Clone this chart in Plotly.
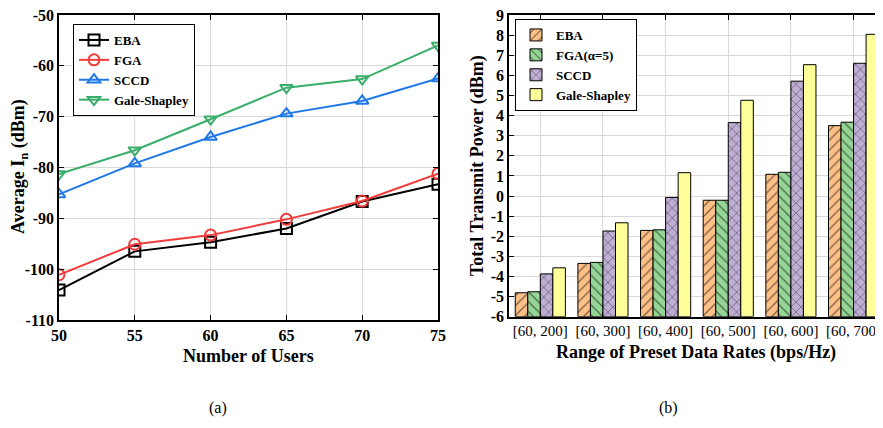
import plotly.graph_objects as go

# ---- Data (a) ----
users = [50, 55, 60, 65, 70, 75]
eba_in = [-104.1, -96.5, -94.7, -92.0, -86.7, -83.3]
fga_in = [-101.1, -95.1, -93.3, -90.2, -86.6, -81.2]
sccd_in = [-85.3, -79.2, -74.0, -69.4, -66.9, -62.5]
gs_in = [-81.3, -76.6, -70.5, -64.3, -62.6, -56.0]
yticks_a = [-110, -100, -90, -80, -70, -60, -50]

# ---- Data (b) ----
rate_ranges = ["[60, 200]", "[60, 300]", "[60, 400]", "[60, 500]", "[60, 600]", "[60, 700]"]
eba_p = [-4.81, -3.35, -1.71, -0.21, 1.08, 3.50]
fga_p = [-4.76, -3.30, -1.68, -0.21, 1.18, 3.67]
sccd_p = [-3.87, -1.74, -0.07, 3.65, 5.71, 6.60]
gs_p = [-3.57, -1.33, 1.16, 4.76, 6.53, 8.04]
yticks_b = list(range(-6, 10))

FONT = "Times New Roman, Liberation Serif, serif"
W, H = 875, 412   # page body has an 8px margin inside the 883x428 window
OFF = 8

def px(x):
    return (x - OFF) / W

def py(y):
    return 1 - (y - OFF) / H

fig = go.Figure()

line_series = [
    ("EBA", eba_in, "#000000", "square-open"),
    ("FGA", fga_in, "#F23C3C", "circle-open"),
    ("SCCD", sccd_in, "#1F78E8", "triangle-up-open"),
    ("Gale-Shapley", gs_in, "#3AAE6B", "triangle-down-open"),
]
for name, ys, col, sym in line_series:
    fig.add_trace(go.Scatter(
        x=users, y=ys, name=name, mode="lines+markers",
        line=dict(color=col, width=2),
        marker=dict(symbol=sym, size=11, color=col, line=dict(color=col, width=2)),
        xaxis="x", yaxis="y", legend="legend",
    ))

bar_series = [
    ("EBA", eba_p, "#FDC086", "/"),
    ("FGA(α=5)", fga_p, "#95D595", "\\"),
    ("SCCD", sccd_p, "#BEAED4", "x"),
    ("Gale-Shapley", gs_p, "#FFFF99", ""),
]
for name, ys, col, pat in bar_series:
    base = -6
    fig.add_trace(go.Bar(
        x=rate_ranges, y=[v - base for v in ys], base=base, name=name,
        marker=dict(color=col, line=dict(color="#000000", width=1),
                    pattern=dict(shape=pat, fgcolor="#000000", bgcolor=col,
                                 size=7, solidity=0.18, fillmode="overlay") if pat else None),
        xaxis="x2", yaxis="y2", legend="legend2",
    ))

axis_common = dict(
    showline=True, linecolor="#000000", linewidth=1.5,
    ticks="inside", ticklen=5, tickcolor="#000000",
    showgrid=True, gridcolor="#D9D9D9", gridwidth=1,
    zeroline=False, automargin=False, ticklabeloverflow="allow",
)
bold_tick = dict(family=FONT, size=16, color="#000", weight="bold")

fig.update_layout(
    width=W, height=H,
    margin=dict(l=0, r=0, t=0, b=0, autoexpand=False),
    paper_bgcolor="white", plot_bgcolor="white",
    font=dict(family=FONT, color="#000000"),
    barmode="group", bargap=0.2, bargroupgap=0,
    xaxis=dict(domain=[px(59), px(438)], range=[50, 75], tickvals=users,
               mirror="ticks", anchor="y", tickfont=bold_tick, **axis_common),
    yaxis=dict(domain=[py(320), py(15)], range=[-110, -50],
               tickvals=yticks_a, ticktext=[str(v) for v in yticks_a],
               mirror="ticks", anchor="x", tickfont=bold_tick, **axis_common),
    xaxis2=dict(domain=[px(509), 1.0], range=[-0.5, 5.47], anchor="y2",
                mirror="ticks",
                tickfont=dict(family=FONT, size=15, color="#000"),
                **axis_common),
    yaxis2=dict(domain=[py(316.7), py(15)], range=[-6, 9],
                tickvals=yticks_b, ticktext=[str(v) for v in yticks_b],
                anchor="x2", tickfont=bold_tick, **axis_common),
    legend=dict(x=px(73), y=py(24), xanchor="left", yanchor="top",
                bgcolor="white", bordercolor="#000", borderwidth=1,
                font=dict(family=FONT, size=13, color="#000", weight="bold"),
                tracegroupgap=0, itemwidth=30),
    legend2=dict(x=px(515), y=py(19), xanchor="left", yanchor="top",
                 bgcolor="white", bordercolor="#000", borderwidth=1,
                 font=dict(family=FONT, size=13, color="#000", weight="bold"),
                 tracegroupgap=0, itemwidth=30),
    showlegend=True,
)

annotations = [
    dict(text="Number of Users", x=248, y=356),
    dict(text="Average I<sub>n</sub> (dBm)", x=20, y=167, textangle=-90),
    dict(text="Range of Preset Data Rates (bps/Hz)", x=696, y=352),
    dict(text="Total Transmit Power (dBm)", x=477, y=166, textangle=-90),
]
for a in annotations:
    fig.add_annotation(
        text=a["text"], x=px(a["x"]), y=py(a["y"]), xref="paper", yref="paper",
        showarrow=False, textangle=a.get("textangle", 0),
        font=dict(family=FONT, size=18, color="#000", weight="bold"),
        xanchor="center", yanchor="middle",
    )
for txt, xc in [("(a)", 218), ("(b)", 668)]:
    fig.add_annotation(
        text=txt, x=px(xc), y=py(408), xref="paper", yref="paper",
        showarrow=False, font=dict(family=FONT, size=16, color="#000"),
        xanchor="center", yanchor="middle",
    )

fig.write_html("out.html")
